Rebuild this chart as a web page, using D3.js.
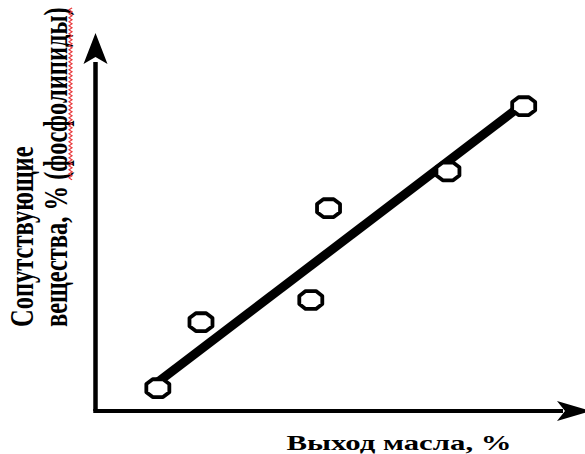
<!DOCTYPE html>
<html><head><meta charset="utf-8">
<script src="https://cdn.jsdelivr.net/npm/d3@7"></script>
<style>html,body{margin:0;padding:0;background:#fff;}svg{display:block;}</style>
</head><body>
<script>
// Data (arbitrary units; the chart has no tick labels)
const pointX = [13.0, 22.0, 44.9, 48.6, 73.5, 89.3];
const pointY = [6.1, 23.7, 29.6, 54.1, 63.9, 81.3];
const trendX = [13.0, 88.1];
const trendY = [7.7, 80.8];
const xLabel = "Выход масла, %";
const yLabelLines = ["Сопутствующие", "вещества, % (фосфолипиды)"];
const underlined = "(фосфолипиды)";

const W = 585, H = 454;
const svg = d3.select("body").append("svg").attr("width", W).attr("height", H);

const x = d3.scaleLinear().domain([0, 100]).range([95.5, 575]);
const y = d3.scaleLinear().domain([0, 100]).range([411, 36]);

// Axes with arrows
const x0 = x.range()[0], y0 = y.range()[0];
svg.append("path").attr("d", `M${x0},${y0}L${x0},${y(100) + 26}`)
  .attr("stroke", "#000").attr("stroke-width", 4.5).attr("fill", "none");
svg.append("path").attr("d", `M${x0 - 2.25},${y0}L${x(100) - 12},${y0}`)
  .attr("stroke", "#000").attr("stroke-width", 4).attr("fill", "none");
// y arrowhead
const yt = y(100) - 3;
svg.append("path")
  .attr("d", `M${x0},${yt}L${x0 + 12},${yt + 31}L${x0},${yt + 24}L${x0 - 12},${yt + 31}Z`)
  .attr("fill", "#000");
// x arrowhead
const xt = x(100) + 16;
svg.append("path")
  .attr("d", `M${xt},${y0}L${xt - 34},${y0 - 10}L${xt - 26},${y0}L${xt - 34},${y0 + 10}Z`)
  .attr("fill", "#000");

// Trend line
const line = d3.line().x(d => x(d[0])).y(d => y(d[1]));
svg.append("path").datum(d3.zip(trendX, trendY)).attr("d", line)
  .attr("stroke", "#000").attr("stroke-width", 9).attr("fill", "none");

// Octagon markers
const a = 11.5, b = 8.9, k = 0.45;
const oct = [[-a*k,-b],[a*k,-b],[a,-b*k],[a,b*k],[a*k,b],[-a*k,b],[-a,b*k],[-a,-b*k]];
const octPath = "M" + oct.map(p => p.join(",")).join("L") + "Z";
svg.append("g").selectAll("path").data(d3.zip(pointX, pointY)).join("path")
  .attr("transform", d => `translate(${x(d[0])},${y(d[1])})`)
  .attr("d", octPath)
  .attr("fill", "#fff").attr("stroke", "#000").attr("stroke-width", 3.8)
  .attr("stroke-linejoin", "round");

// Text (horizontally stretched like the reference)
const font = "'Liberation Serif', 'Times New Roman', serif";
const sx = 1.4;
svg.append("text").attr("transform", `translate(399,450) scale(${sx},1)`)
  .attr("text-anchor", "middle").attr("font-family", font).attr("font-weight", "bold")
  .attr("font-size", 22).attr("fill", "#000").text(xLabel);

const baseX = [33, 67];
yLabelLines.forEach((t, i) => {
  const g = svg.append("g").attr("transform", `translate(${baseX[i]},327) scale(${sx},1) rotate(-90)`);
  const te = g.append("text").attr("x", 0).attr("y", 0)
    .attr("font-family", font).attr("font-weight", "bold")
    .attr("font-size", 24.5).attr("fill", "#000").text(t);
  const idx = t.indexOf(underlined);
  if (idx >= 0) {
    const node = te.node();
    const s = node.getSubStringLength(0, idx);
    const l = node.getSubStringLength(idx, underlined.length);
    const pts = [];
    for (let u = 0, j = 0; u <= l; u += 2, j++) pts.push([s + u, j % 2 ? 1.4 : 3.6]);
    g.append("path").attr("d", d3.line()(pts)).attr("fill", "none")
      .attr("stroke", "#e8393c").attr("stroke-width", 1);
  }
});
</script>
</body></html>
